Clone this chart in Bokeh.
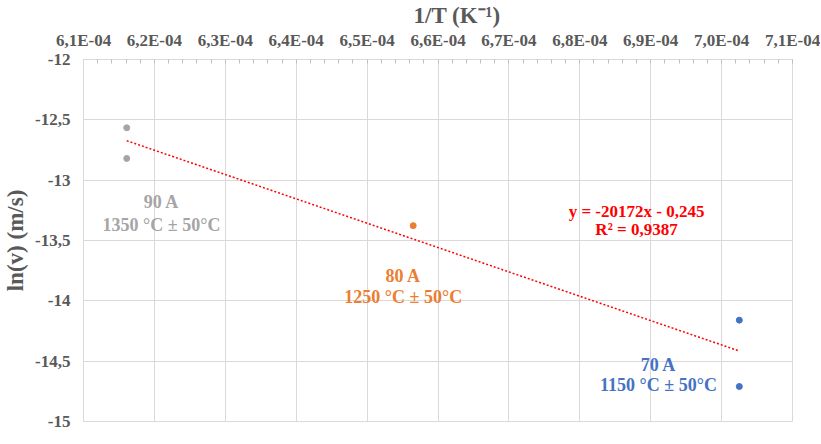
from bokeh.plotting import figure
from bokeh.models import FixedTicker, CustomJSTickFormatter
from bokeh.core.properties import value
from bokeh.embed import file_html
from bokeh.resources import INLINE

# ---- data ----
inv_T_90A = [6.161e-4, 6.161e-4]
ln_v_90A = [-12.566, -12.82]
inv_T_80A = [6.565e-4]
ln_v_80A = [-13.377]
inv_T_70A = [7.025e-4, 7.025e-4]
ln_v_70A = [-14.16, -14.71]

fit_slope = -20172.0
fit_intercept = -0.245

x_ticks = [6.1e-4, 6.2e-4, 6.3e-4, 6.4e-4, 6.5e-4, 6.6e-4, 6.7e-4, 6.8e-4, 6.9e-4, 7.0e-4, 7.1e-4]
y_ticks = [-15, -14.5, -14, -13.5, -13, -12.5, -12]

GRID = "#D9D9D9"
TXT = "#595959"
FONT = "Liberation Serif"

p = figure(frame_width=709, frame_height=362, x_range=(6.1e-4, 7.1e-4), y_range=(-15, -12),
           x_axis_location="above", output_backend="svg", toolbar_location=None,
           title="1/T (K⁻¹)", title_location="above",
           min_border_left=75, min_border_right=28, min_border_top=56, min_border_bottom=10)
p.outline_line_color = GRID
p.background_fill_color = "white"
p.border_fill_color = "white"

p.title.align = "left"
p.title.offset = 330
p.title.standoff = 0
p.title.text_font = FONT
p.title.text_font_size = "23px"
p.title.text_font_style = "bold"
p.title.text_color = TXT

minor = [6.1e-4 + i * 2e-6 for i in range(51)]
p.xaxis.ticker = FixedTicker(ticks=x_ticks, minor_ticks=minor)
p.yaxis.ticker = FixedTicker(ticks=y_ticks)
p.xaxis.formatter = CustomJSTickFormatter(code="""
const parts = tick.toExponential(1).split('e');
const n = parseInt(parts[1]);
return parts[0].replace('.', ',') + 'E' + (n < 0 ? '-' : '+') + String(Math.abs(n)).padStart(2, '0');
""")
p.yaxis.formatter = CustomJSTickFormatter(code="return tick.toString().replace('.', ',');")

for ax in (p.xaxis[0], p.yaxis[0]):
    ax.axis_line_color = GRID
    ax.major_tick_out = 0
    ax.major_tick_in = 0
    ax.minor_tick_out = 0
    ax.minor_tick_in = 0
    ax.major_label_text_font = FONT
    ax.major_label_text_font_size = "17px"
    ax.major_label_text_font_style = "bold"
    ax.major_label_text_color = TXT

p.xaxis.minor_tick_in = 4
p.xaxis.minor_tick_line_color = "#BFBFBF"
p.xaxis.major_label_standoff = 10
p.yaxis.major_label_standoff = 13

p.yaxis.axis_label = "ln(v) (m/s)"
p.yaxis.axis_label_text_font = FONT
p.yaxis.axis_label_text_font_size = "23px"
p.yaxis.axis_label_text_font_style = "bold"
p.yaxis.axis_label_text_color = TXT
p.yaxis.axis_label_standoff = 4

p.xgrid.grid_line_color = GRID
p.ygrid.grid_line_color = GRID

# trendline
all_x = inv_T_90A + inv_T_80A + inv_T_70A
tx = [min(all_x), max(all_x)]
ty = [fit_slope * v + fit_intercept for v in tx]
p.line(tx, ty, line_color="#FF0000", line_dash="2 2", line_width=1.5)

p.scatter(inv_T_90A, ln_v_90A, size=6, color="#A5A5A5")
p.scatter(inv_T_80A, ln_v_80A, size=6, color="#ED7D31")
p.scatter(inv_T_70A, ln_v_70A, size=6, color="#4472C4")

def txt(x, y, s, color, size="18px"):
    p.text(x=[x], y=[y], text=[s], text_font=value(FONT), text_font_style="bold",
           text_font_size=size, text_color=color, text_align="center", text_baseline="middle")

txt(6.21e-4, -13.18, "90 A", "#A5A5A5")
txt(6.21e-4, -13.37, "1350 °C ± 50°C", "#A5A5A5")
txt(6.551e-4, -13.795, "80 A", "#ED7D31")
txt(6.551e-4, -13.965, "1250 °C ± 50°C", "#ED7D31")
txt(6.911e-4, -14.53, "70 A", "#4472C4")
txt(6.911e-4, -14.70, "1150 °C ± 50°C", "#4472C4")
txt(6.88e-4, -13.26, "y = -20172x - 0,245", "#FF0000", "17px")
txt(6.88e-4, -13.41, "R² = 0,9387", "#FF0000", "17px")

open("out.html", "w").write(file_html(p, INLINE))
